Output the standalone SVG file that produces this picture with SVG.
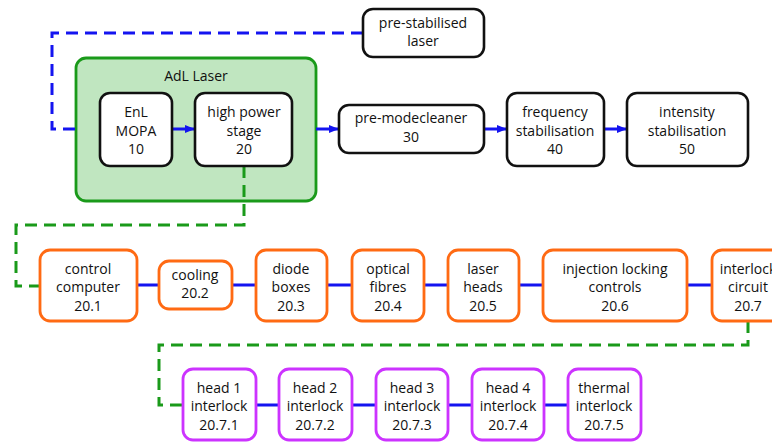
<svg xmlns="http://www.w3.org/2000/svg" width="772" height="445" viewBox="0 0 772 445">
<defs>
<marker id="arr" markerWidth="10" markerHeight="8" refX="10" refY="4" orient="auto" markerUnits="userSpaceOnUse">
<path d="M0,0 L10,4 L0,8 z" fill="#1414f0"/>
</marker>
<style>
text{font-family:"Open Sans","Liberation Sans",Arial,sans-serif;font-size:14px;fill:#111;text-anchor:middle}
.bk{fill:#fff;stroke:#111;stroke-width:2.6}
.or{fill:#fff;stroke:#ff6a13;stroke-width:2.8}
.pu{fill:#fff;stroke:#cc33ff;stroke-width:2.8}
.ad{fill:#c0e6c0;stroke:#1a9a1a;stroke-width:2.8}
.bl{fill:none;stroke:#1414f0;stroke-width:3}
.bd{fill:none;stroke:#1414f0;stroke-width:3;stroke-dasharray:12,7}
.gd{fill:none;stroke:#1a9a1a;stroke-width:3;stroke-dasharray:12,7}
</style>
</defs>
<rect width="772" height="445" fill="#fff"/>
<g id="adl">
<rect class="ad" x="76" y="58" width="240" height="143" rx="10"/>
<text x="196" y="81">AdL Laser</text>
</g>
<g id="connectors">
<path class="bd" d="M363,33 H52 V129 H76"/>
<path class="bl" d="M172,129 H195" marker-end="url(#arr)"/>
<path class="bl" d="M316,129 H339" marker-end="url(#arr)"/>
<path class="bl" d="M484,129 H507" marker-end="url(#arr)"/>
<path class="bl" d="M604,129 H627" marker-end="url(#arr)"/>
<path class="gd" d="M244,166 V225 H16 V286 H40"/>
<path class="bl" d="M137,285 H159 M232,285 H256 M327,285 H352 M424,285 H448 M519,285 H543 M687,285 H712"/>
<path class="gd" d="M748,321 V345 H159 V405 H183"/>
<path class="bl" d="M256,405 H279 M352,405 H376 M448,405 H472 M544,405 H568"/>
</g>
<g id="psl">
<rect class="bk" x="363" y="9" width="121" height="48" rx="10"/>
<text x="423" y="28">pre-stabilised</text>
<text x="423" y="46">laser</text>
</g>
<g id="n10">
<rect class="bk" x="100" y="93" width="72" height="73" rx="10"/>
<text x="136" y="117">EnL</text>
<text x="136" y="136">MOPA</text>
<text x="136" y="154">10</text>
</g>
<g id="n20">
<rect class="bk" x="195" y="93" width="97" height="73" rx="10"/>
<text x="244" y="117">high power</text>
<text x="244" y="136">stage</text>
<text x="244" y="154">20</text>
</g>
<g id="n30">
<rect class="bk" x="339" y="105" width="145" height="48" rx="10"/>
<text x="411" y="123">pre-modecleaner</text>
<text x="411" y="142">30</text>
</g>
<g id="n40">
<rect class="bk" x="507" y="93" width="97" height="73" rx="10"/>
<text x="555" y="117">frequency</text>
<text x="555" y="136">stabilisation</text>
<text x="555" y="154">40</text>
</g>
<g id="n50">
<rect class="bk" x="627" y="93" width="121" height="73" rx="10"/>
<text x="687" y="117">intensity</text>
<text x="687" y="136">stabilisation</text>
<text x="687" y="154">50</text>
</g>
<g id="n201">
<rect class="or" x="40" y="250" width="97" height="71" rx="10"/>
<text x="88" y="274">control</text>
<text x="88" y="292">computer</text>
<text x="88" y="311">20.1</text>
</g>
<g id="n202">
<rect class="or" x="159" y="261" width="73" height="48" rx="10"/>
<text x="195" y="280">cooling</text>
<text x="195" y="298">20.2</text>
</g>
<g id="n203">
<rect class="or" x="256" y="250" width="71" height="71" rx="10"/>
<text x="291" y="274">diode</text>
<text x="291" y="292">boxes</text>
<text x="291" y="311">20.3</text>
</g>
<g id="n204">
<rect class="or" x="352" y="250" width="72" height="71" rx="10"/>
<text x="388" y="274">optical</text>
<text x="388" y="292">fibres</text>
<text x="388" y="311">20.4</text>
</g>
<g id="n205">
<rect class="or" x="448" y="250" width="71" height="71" rx="10"/>
<text x="483" y="274">laser</text>
<text x="483" y="292">heads</text>
<text x="483" y="311">20.5</text>
</g>
<g id="n206">
<rect class="or" x="543" y="250" width="144" height="71" rx="10"/>
<text x="615" y="274">injection locking</text>
<text x="615" y="292">controls</text>
<text x="615" y="311">20.6</text>
</g>
<g id="n207">
<rect class="or" x="712" y="250" width="72" height="71" rx="10"/>
<text x="748" y="274">interlock</text>
<text x="748" y="292">circuit</text>
<text x="748" y="311">20.7</text>
</g>
<g id="n2071">
<rect class="pu" x="183" y="369" width="73" height="71" rx="10"/>
<text x="219" y="393">head 1</text>
<text x="219" y="411">interlock</text>
<text x="219" y="430">20.7.1</text>
</g>
<g id="n2072">
<rect class="pu" x="279" y="369" width="73" height="71" rx="10"/>
<text x="315" y="393">head 2</text>
<text x="315" y="411">interlock</text>
<text x="315" y="430">20.7.2</text>
</g>
<g id="n2073">
<rect class="pu" x="376" y="369" width="72" height="71" rx="10"/>
<text x="412" y="393">head 3</text>
<text x="412" y="411">interlock</text>
<text x="412" y="430">20.7.3</text>
</g>
<g id="n2074">
<rect class="pu" x="472" y="369" width="72" height="71" rx="10"/>
<text x="508" y="393">head 4</text>
<text x="508" y="411">interlock</text>
<text x="508" y="430">20.7.4</text>
</g>
<g id="n2075">
<rect class="pu" x="568" y="369" width="73" height="71" rx="10"/>
<text x="604" y="393">thermal</text>
<text x="604" y="411">interlock</text>
<text x="604" y="430">20.7.5</text>
</g>
</svg>
